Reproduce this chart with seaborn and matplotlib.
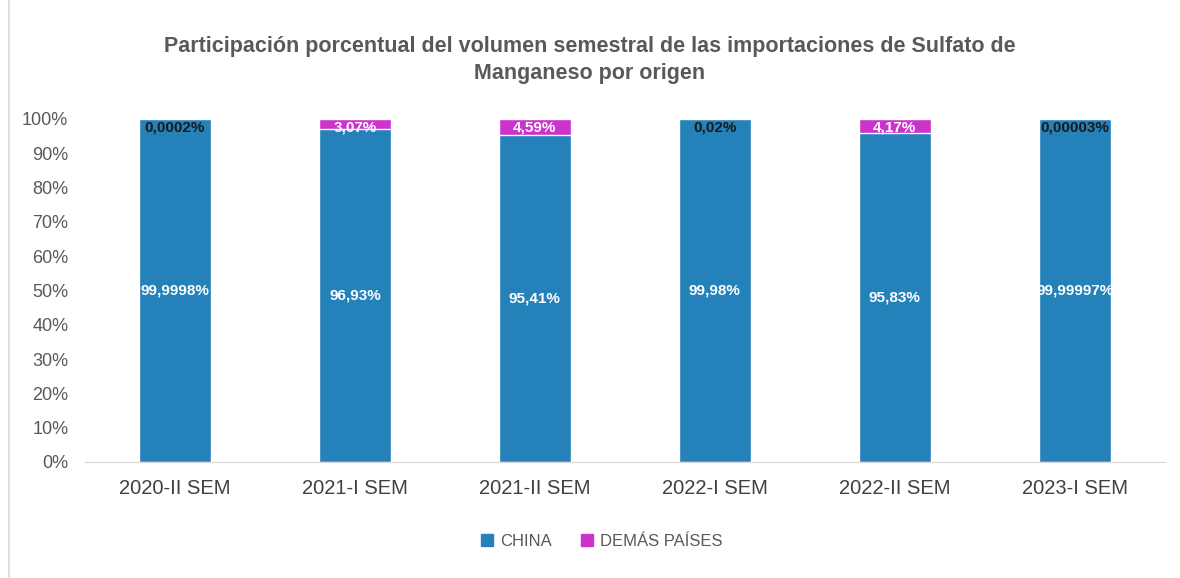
import numpy as np
import pandas as pd
import seaborn as sns
from matplotlib import pyplot as plt
from matplotlib.patches import Patch, Rectangle

semestres = ['2020-II SEM', '2021-I SEM', '2021-II SEM', '2022-I SEM', '2022-II SEM', '2023-I SEM']
china = [99.9998, 96.93, 95.41, 99.98, 95.83, 99.99997]
demas = [0.0002, 3.07, 4.59, 0.02, 4.17, 0.00003]
china_txt = ['99,9998%', '96,93%', '95,41%', '99,98%', '95,83%', '99,99997%']
demas_txt = ['0,0002%', '3,07%', '4,59%', '0,02%', '4,17%', '0,00003%']

AZUL = '#2581ba'
MAGENTA = '#cc33cc'

df = pd.DataFrame({'sem': semestres, 'china': china, 'demas': demas})
df['total'] = df['china'] + df['demas']

sns.set_style('white')
plt.rcParams['font.family'] = ['Liberation Sans', 'DejaVu Sans']

fig = plt.figure(figsize=(11.8, 5.78), dpi=100)
ax = fig.add_axes([0.072, 0.2007, 0.915, 0.5935])

sns.barplot(data=df, x='sem', y='total', color=MAGENTA, saturation=1, width=0.4, ax=ax)
sns.barplot(data=df, x='sem', y='china', color=AZUL, saturation=1, width=0.4, ax=ax)

ax.set_xlim(-0.5, 5.5)
ax.set_ylim(0, 100)
ax.set_yticks(np.arange(0, 101, 10))
ax.set_yticklabels([f'{v}%' for v in range(0, 101, 10)], fontsize=13, color='#595959')
ax.set_xticks(range(len(semestres)))
ax.set_xticklabels(semestres, fontsize=14.5, color='#404040')
ax.tick_params(axis='x', pad=12, length=0)
ax.tick_params(axis='y', pad=12, length=0)
ax.set_xlabel('')
ax.set_ylabel('')
for s in ['top', 'right', 'left']:
    ax.spines[s].set_visible(False)
ax.spines['bottom'].set_color('#d9d9d9')

for i in range(len(semestres)):
    ax.text(i, china[i] / 2, china_txt[i], ha='center', va='center', color='white',
            fontsize=11, fontweight='bold')
    col = 'white' if demas[i] > 1 else '#1a1a1a'
    ax.text(i, 97.4, demas_txt[i], ha='center', va='center', color=col,
            fontsize=11, fontweight='bold', clip_on=False)

fig.text(0.5, 0.896, 'Participación porcentual del volumen semestral de las importaciones de Sulfato de\nManganeso por origen',
         ha='center', va='center', fontsize=15.5, fontweight='bold', color='#595959', linespacing=1.35)

handles = [Patch(color=AZUL, label='CHINA'), Patch(color=MAGENTA, label='DEMÁS PAÍSES')]
fig.legend(handles=handles, loc='center', bbox_to_anchor=(0.51, 0.064), ncol=2, frameon=False,
           fontsize=12, handlelength=0.7, handleheight=0.7, handletextpad=0.4, columnspacing=1.8,
           labelcolor='#595959')

fig.patches.append(Rectangle((0.008, -0.01), 1.2, 1.2, transform=fig.transFigure,
                             fill=False, edgecolor='#d9d9d9', linewidth=1.2))

fig.savefig('out.png', dpi=100)
